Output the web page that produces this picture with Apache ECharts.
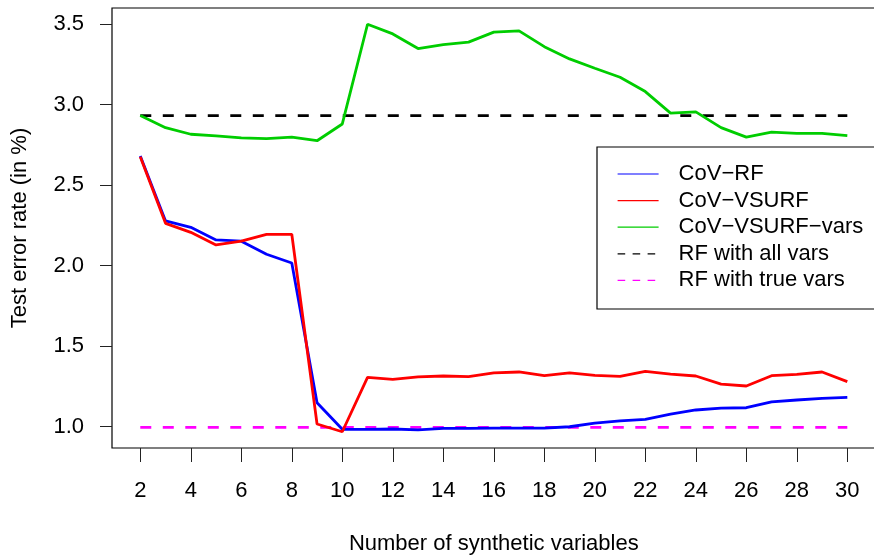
<!DOCTYPE html>
<html>
<head>
<meta charset="utf-8">
<script src="https://cdn.jsdelivr.net/npm/echarts@6/dist/echarts.min.js"></script>
<style>
html,body{margin:0;padding:0;background:#fff;}
#chart{width:874px;height:555px;}
</style>
</head>
<body>
<div id="chart"></div>
<script>
const xValues = [2,3,4,5,6,7,8,9,10,11,12,13,14,15,16,17,18,19,20,21,22,23,24,25,26,27,28,29,30];
const covRF = [2.681,2.278,2.238,2.160,2.152,2.071,2.017,1.149,0.984,0.984,0.986,0.981,0.990,0.990,0.992,0.992,0.992,1.000,1.023,1.037,1.046,1.079,1.104,1.116,1.118,1.155,1.166,1.176,1.182];
const covVSURF = [2.677,2.263,2.207,2.129,2.152,2.195,2.195,1.017,0.969,1.307,1.294,1.309,1.315,1.311,1.335,1.340,1.317,1.335,1.319,1.313,1.344,1.327,1.315,1.265,1.253,1.317,1.325,1.340,1.280];
const covVSURFvars = [2.932,2.857,2.816,2.806,2.793,2.789,2.798,2.776,2.880,3.499,3.439,3.348,3.373,3.388,3.450,3.458,3.360,3.284,3.226,3.170,3.081,2.947,2.955,2.857,2.798,2.829,2.822,2.822,2.807];
const rfAllVars = 2.932;
const rfTrueVars = 0.996;
const xTicks = [2,4,6,8,10,12,14,16,18,20,22,24,26,28,30];
const yTicks = [1.0,1.5,2.0,2.5,3.0,3.5];
const seriesNames = ['CoV\u2212RF','CoV\u2212VSURF','CoV\u2212VSURF\u2212vars','RF with all vars','RF with true vars'];

const pair = (arr) => xValues.map((x, i) => [x, arr[i]]);
const flat = (v) => [[xValues[0], v], [xValues[xValues.length - 1], v]];

const FONT = 'Liberation Sans, Arial, Helvetica, sans-serif';
const FS = 22;
const chart = echarts.init(document.getElementById('chart'), null, {renderer: 'canvas'});

const lineSeries = (name, data, color, dash) => ({
  name, type: 'line', data, symbol: 'none', silent: true, animation: false,
  lineStyle: {color, width: 2.8, type: dash ? [11, 11.5] : 'solid'},
  itemStyle: {color}
});

const legendItem = (name, dash) => ({name, lineStyle: {type: dash ? [7.6, 7.4] : 'solid', width: 1.2}});

chart.setOption({
  animation: false,
  backgroundColor: '#ffffff',
  textStyle: {fontFamily: FONT},
  grid: {left: 112, top: 8, width: 763.6, height: 440, show: true, borderColor: '#000', borderWidth: 1.2, backgroundColor: 'transparent', outerBoundsMode: 'none', containLabel: false},
  xAxis: {
    type: 'value', min: 0.88, max: 31.12,
    name: 'Number of synthetic variables', nameLocation: 'middle', nameGap: 85,
    nameTextStyle: {fontSize: FS, color: '#000', fontFamily: FONT},
    axisLine: {show: false},
    splitLine: {show: false},
    axisTick: {show: true, length: 14, lineStyle: {color: '#222', width: 1}, customValues: xTicks},
    axisLabel: {fontSize: FS, color: '#000', margin: 32, fontFamily: FONT, customValues: xTicks}
  },
  yAxis: {
    type: 'value', min: 0.868, max: 3.60,
    name: 'Test error rate (in %)', nameLocation: 'middle', nameGap: 81, nameRotate: 90,
    nameTextStyle: {fontSize: FS, color: '#000', fontFamily: FONT},
    axisLine: {show: false},
    splitLine: {show: false},
    axisTick: {show: true, length: 12, lineStyle: {color: '#222', width: 1}, customValues: yTicks},
    axisLabel: {fontSize: FS, color: '#000', margin: 28, fontFamily: FONT, customValues: yTicks, formatter: (v) => v.toFixed(1)}
  },
  legend: {
    orient: 'vertical', left: 597, top: 147,
    data: [
      legendItem(seriesNames[0], false),
      legendItem(seriesNames[1], false),
      legendItem(seriesNames[2], false),
      legendItem(seriesNames[3], true),
      legendItem(seriesNames[4], true)
    ],
    backgroundColor: '#fff', borderColor: '#000', borderWidth: 1.2, borderRadius: 0,
    padding: [16, 60, 17.6, 20],
    itemWidth: 41, itemHeight: 14, itemGap: 4.6,
    selectedMode: false,
    lineStyle: {width: 1.2},
    itemStyle: {opacity: 0},
    textStyle: {fontSize: FS, color: '#000', lineHeight: 22, fontFamily: FONT, padding: [0, 0, 0, 15]}
  },
  series: [
    lineSeries(seriesNames[3], flat(rfAllVars), '#000000', true),
    lineSeries(seriesNames[4], flat(rfTrueVars), '#FF00FF', true),
    lineSeries(seriesNames[2], pair(covVSURFvars), '#00CD00', false),
    lineSeries(seriesNames[0], pair(covRF), '#0000FF', false),
    lineSeries(seriesNames[1], pair(covVSURF), '#FF0000', false)
  ]
});
</script>
</body>
</html>
